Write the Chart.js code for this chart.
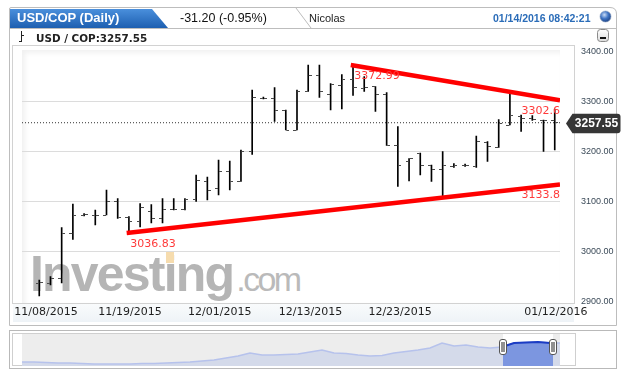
<!DOCTYPE html>
<html>
<head>
<meta charset="utf-8">
<script src="https://cdn.jsdelivr.net/npm/chart.js"></script>
<style>
  html,body{margin:0;padding:0;width:626px;height:374px;overflow:hidden;background:#fff;}
  body{position:relative;font-family:"Liberation Sans",Arial,sans-serif;}
  .a{position:absolute;}
  #deco{left:0;top:0;z-index:0}
  #plotbg{left:22px;top:50px;width:538px;height:253px;background:#fff;box-shadow:inset 3px 3px 5px rgba(0,0,0,0.06);z-index:1}
  #wm{left:30px;top:249px;font:bold 50px "Liberation Sans",Arial,sans-serif;color:#b5b5b5;letter-spacing:-1.8px;line-height:50px;white-space:nowrap;z-index:2}
  #wm .com{font-weight:normal;font-size:34px;letter-spacing:-2.6px;color:#bababa;margin-left:3px}
  #dot{left:0;top:251px;width:8px;height:12px;background:#f6dcae;z-index:2}
  #main{left:0;top:0;z-index:3}
  #nav{left:22px;top:334px;z-index:3}
  #tab{left:10px;top:9px;width:158px;height:19px;background:linear-gradient(#4a8fdc,#1d5fb0);clip-path:polygon(0 0,142px 0,158px 100%,0 100%);z-index:2}
  .t{z-index:4;white-space:nowrap;line-height:16px}
</style>
</head>
<body>
<svg id="deco" class="a" width="626" height="374">
  <defs>
    <linearGradient id="dr" x1="0" y1="0" x2="0" y2="1"><stop offset="0" stop-color="#f9fbfc"/><stop offset="1" stop-color="#eef3f7"/></linearGradient>
    <radialGradient id="gl" cx="0.4" cy="0.35" r="0.7"><stop offset="0" stop-color="#c9dcf6"/><stop offset="0.5" stop-color="#3f74c4"/><stop offset="1" stop-color="#1b3f80"/></radialGradient>
    <linearGradient id="mb" x1="0" y1="0" x2="0" y2="1"><stop offset="0" stop-color="#ffffff"/><stop offset="1" stop-color="#dcdcdc"/></linearGradient>
  </defs>
  <path d="M9.5 28 V9 Q9.5 7.5 11 7.5 H610 Q616.5 7.5 616.5 14 V325.5 H9.5 Z" fill="#fff" stroke="#bdbdbd"/>
  <line x1="9.5" y1="28.5" x2="616.5" y2="28.5" stroke="#bdbdbd"/>
  <path d="M296 8 L311 28" stroke="#bdbdbd" fill="none"/>
  <rect x="13" y="304" width="561" height="18" fill="url(#dr)"/>
  <rect x="12.5" y="45.5" width="562" height="258" fill="#fff" stroke="#d2d2d2"/>
  <circle cx="605.5" cy="16.5" r="5.5" fill="url(#gl)" stroke="#8aa0c0" stroke-width="0.6"/>
  <rect x="597.5" y="29.5" width="11" height="12" rx="3" fill="url(#mb)" stroke="#8a8a8a"/>
  <rect x="600" y="37" width="6" height="2" fill="#111"/>
  <path d="M21.5 31 V42 M19 41.5 H21.5 M21.5 35.5 H24" stroke="#222" fill="none"/>
  <rect x="9.5" y="330.5" width="607" height="38" fill="#fff" stroke="#b9b9b9"/>
  <rect x="12.5" y="333.5" width="563" height="32" fill="#fff" stroke="#cfcfcf"/>
</svg>
<div id="plotbg" class="a"></div>
<div id="wm" class="a">Invest<span id="ii">i</span>ng<span class="com">.com</span></div>
<div id="dot" class="a"></div>
<div id="tab" class="a"></div>
<div class="a t" style="left:17px;top:10px;color:#fff;font-weight:bold;font-size:13px;">USD/COP (Daily)</div>
<div class="a t" style="left:180px;top:10px;color:#111;font-size:12.5px;">-31.20 (-0.95%)</div>
<div class="a t" style="left:309px;top:10px;color:#222;font-size:11px;">Nicolas</div>
<div class="a t" style="left:493px;top:10px;color:#2a6cb8;font-size:10.5px;font-weight:bold;">01/14/2016 08:42:21</div>
<div class="a t" style="left:36px;top:30px;color:#222;font:bold 10.4px 'DejaVu Sans',sans-serif;line-height:16px;">USD / COP:3257.55</div>
<canvas id="main" class="a" width="626" height="374"></canvas>
<canvas id="nav" class="a" width="538" height="32"></canvas>
<script>
// ---------------- data ----------------
const dates = ['11/09/2015','11/10/2015','11/11/2015','11/12/2015','11/13/2015','11/16/2015','11/17/2015','11/18/2015','11/19/2015','11/20/2015',
  '11/23/2015','11/24/2015','11/25/2015','11/26/2015','11/27/2015','11/30/2015','12/01/2015','12/02/2015','12/03/2015','12/04/2015',
  '12/07/2015','12/08/2015','12/09/2015','12/10/2015','12/11/2015','12/14/2015','12/15/2015','12/16/2015','12/17/2015','12/18/2015',
  '12/21/2015','12/22/2015','12/23/2015','12/24/2015','12/25/2015','12/28/2015','12/29/2015','12/30/2015','12/31/2015','01/01/2016',
  '01/04/2016','01/05/2016','01/06/2016','01/07/2016','01/08/2016','01/11/2016','01/12/2016'];
const opens  = [2936,2937,2946,3037,3073,3073,3073,3101,3069,3061,3080,3066,3085,3085,3104,3141,3126,3160,3140,3200,
  3307,3307,3283,3243,3320,3352,3314,3332,3345,3327,3330,3314,3213,3180,3197,3173,3164,3171,3173,3171,
  3219,3208,3253,3270,3266,3263,3262];
const highs  = [2943,2950,3048,3095,3076,3083,3123,3106,3070,3096,3094,3106,3106,3106,3153,3149,3183,3181,3203,3323,
  3309,3328,3283,3323,3373,3373,3336,3354,3372.99,3350,3330,3318,3250,3186,3197,3173,3200,3176,3175,3231,
  3220,3264,3318,3273,3272,3263,3285];
const lows   = [2911,2933,2937,3024,3071,3053,3073,3066,3036.83,3049,3057,3057,3083,3083,3100,3103,3113,3123,3140,3194,
  3305,3260,3243,3243,3320,3308,3283,3285,3312,3320,3280,3212,3130,3141,3153,3140,3106,3168,3170,3168,
  3180,3208,3253,3240,3262,3200,3203];
const closes = [2938,2946,3037,3073,3074,3073,3101,3069,3061,3089,3066,3085,3085,3104,3143,3123,3160,3141,3201,3308,
  3307,3283,3243,3320,3352,3321,3334,3345,3328,3329,3314,3213,3172,3186,3173,3164,3173,3173,3173,3220,
  3210,3256,3273,3266,3265,3262,3257.55];
const lastPrice = 3257.55;
const yMin = 2900, yMax = 3400, yStep = 100;
const xTickLabels = ['11/08/2015','11/19/2015','12/01/2015','12/13/2015','12/23/2015','01/12/2016'];
const xTickIndex  = [0.6, 8.1, 16.1, 24.2, 32.2, 46.1];
const xMin = -1.54, xMax = 46.47;
const trendUpper = [{x:27.8, y:3372.99}, {x:46.47, y:3302.6}];
const trendLower = [{x:7.8, y:3036.83}, {x:46.47, y:3133.8}];
// navigator (longer history, approximate readings)
const navValues = [2006,2006,1973,1940,1940,1907,1874,1874,1874,1874,1907,1907,1940,1973,2006,2072,2138,2270,2402,2600,
  2468,2468,2501,2534,2666,2798,2600,2567,2468,2402,2435,2600,2699,2798,2930,3260,3062,3128,2996,2930,
  2996,3260,3293,3326,3260,3260];
const navMin = 1742, navMax = 3854;
const navXMax = 44.83;
const navWindow = [40.08, 44.25];

// watermark i-dot (decoration) placed over the real "i"
(function(){
  const r = document.getElementById('ii').getBoundingClientRect();
  const d = document.getElementById('dot');
  d.style.left = (r.left + r.width / 2 - 4) + 'px';
})();

// ---------------- chart ----------------
Chart.defaults.font.family = '"DejaVu Sans", sans-serif';
Chart.defaults.animation = false;

function tickCanvas(side){
  const c = document.createElement('canvas');
  c.width = 7; c.height = 1;
  const g = c.getContext('2d');
  g.fillStyle = '#4a4a4a';
  if (side === 'open') g.fillRect(0,0,3,1); else g.fillRect(4,0,3,1);
  return c;
}
const openStyle = tickCanvas('open'), closeStyle = tickCanvas('close');

const overlay = {
  id:'overlay',
  afterDatasetsDraw(chart){
    const {ctx, chartArea} = chart;
    const x = chart.scales.x, y = chart.scales.y;
    ctx.save();
    ctx.font = '11px "DejaVu Sans", sans-serif';
    ctx.fillStyle = '#ff3a3a';
    ctx.textBaseline = 'alphabetic';
    [trendUpper, trendLower].forEach(t => {
      const a = t[0], b = t[1];
      ctx.textAlign = 'left';
      ctx.fillText(String(a.y), x.getPixelForValue(a.x) + 3.5, y.getPixelForValue(a.y) + 13.5);
      ctx.textAlign = 'right';
      ctx.fillText(String(b.y), chartArea.right, y.getPixelForValue(b.y) + 13.5);
    });
    const py = Math.round(y.getPixelForValue(lastPrice)) + 0.5;
    const tip = chartArea.right + 6, bx = tip + 6.5, bw = 48, h = 9.7;
    ctx.fillStyle = '#363636';
    ctx.beginPath();
    ctx.moveTo(tip, py);
    ctx.lineTo(bx, py - h);
    ctx.lineTo(bx + bw - 3, py - h);
    ctx.quadraticCurveTo(bx + bw, py - h, bx + bw, py - h + 3);
    ctx.lineTo(bx + bw, py + h - 3);
    ctx.quadraticCurveTo(bx + bw, py + h, bx + bw - 3, py + h);
    ctx.lineTo(bx, py + h);
    ctx.closePath();
    ctx.fill();
    ctx.fillStyle = '#fff';
    ctx.font = 'bold 12px "Liberation Sans", Arial, sans-serif';
    ctx.textAlign = 'center';
    ctx.textBaseline = 'middle';
    ctx.fillText(lastPrice.toFixed(2), bx + bw / 2, py + 0.5);
    ctx.restore();
  }
};

new Chart(document.getElementById('main'), {
  type: 'bar',
  data: {
    datasets: [
      { type:'line', label:'upper', data: trendUpper, borderColor:'#ff0000', borderWidth:4.5, pointRadius:0, order:0 },
      { type:'line', label:'lower', data: trendLower, borderColor:'#ff0000', borderWidth:4.5, pointRadius:0, order:0 },
      { type:'line', label:'open', data: opens.map((v,i)=>({x:i, y:v})), showLine:false, pointStyle: openStyle, pointRadius:3, order:1 },
      { type:'line', label:'close', data: closes.map((v,i)=>({x:i, y:v})), showLine:false, pointStyle: closeStyle, pointRadius:3, order:1 },
      { type:'bar', label:'range', data: dates.map((d,i)=>({x:i, y:[lows[i], highs[i]]})), backgroundColor:'#000', barThickness:1, order:2 },
      { type:'line', label:'last', data: [{x:xMin,y:lastPrice},{x:xMax,y:lastPrice}], borderColor:'#333', borderWidth:1, borderDash:[1,2], pointRadius:0, order:3 }
    ]
  },
  options: {
    responsive:false,
    devicePixelRatio:1,
    events:[],
    layout:{ padding:{ left:22, top:51.5, right:10, bottom:50.5 } },
    plugins:{ legend:{display:false}, tooltip:{enabled:false} },
    scales:{
      x:{
        type:'linear', min:xMin, max:xMax, offset:false,
        grid:{ display:false, offset:false, drawTicks:false },
        border:{ display:false },
        afterBuildTicks(s){ s.ticks = xTickIndex.map(v=>({value:v})); },
        afterFit(s){ s.height = 22; },
        ticks:{ autoSkip:false, maxRotation:0, padding:4, color:'#1e1e1e', font:{size:11},
          callback(v){ const k = xTickIndex.indexOf(v); return k >= 0 ? xTickLabels[k] : ''; } }
      },
      y:{
        position:'right', min:yMin, max:yMax,
        grid:{ drawTicks:false, color:(c)=> (c.tick && (c.tick.value===yMin || c.tick.value===yMax)) ? 'rgba(0,0,0,0)' : '#dcdcdc' },
        border:{ display:false },
        afterFit(s){ s.width = 56; },
        ticks:{ stepSize:yStep, padding:21, color:'#3b4a58', font:{family:'"Liberation Sans", Arial, sans-serif', size:9},
          callback(v){ return Number(v).toFixed(2); } }
      }
    }
  },
  plugins:[overlay]
});

// ---------------- navigator ----------------
function winPx(chart){
  const x = chart.scales.x;
  return [x.getPixelForValue(navWindow[0]), x.getPixelForValue(navWindow[1])];
}
const navClip = {
  id:'navClip',
  beforeDraw(chart){
    const {ctx, chartArea:a} = chart;
    const w = winPx(chart);
    ctx.save();
    ctx.fillStyle = '#ededed';
    ctx.fillRect(a.left, a.top, a.right - a.left, a.bottom - a.top);
    ctx.fillStyle = '#ffffff';
    ctx.fillRect(w[0], a.top, w[1] - w[0], a.bottom - a.top);
    ctx.restore();
  },
  afterDatasetDraw(chart, args){
    const {ctx, chartArea:a} = chart;
    if (args.index === 0) {
      const w = winPx(chart);
      ctx.save();
      ctx.beginPath(); ctx.rect(w[0], a.top, w[1] - w[0], a.bottom - a.top); ctx.clip();
    } else if (args.index === 1) {
      ctx.restore();
    }
  },
  afterDraw(chart){
    const {ctx, chartArea:a} = chart;
    winPx(chart).forEach(v => {
      const px = Math.round(v);
      ctx.save();
      ctx.fillStyle = '#fff'; ctx.strokeStyle = '#555'; ctx.lineWidth = 1;
      ctx.beginPath(); ctx.roundRect(px - 3.5, a.top + 5.5, 7, 15, 2.5); ctx.fill(); ctx.stroke();
      ctx.fillStyle = '#222';
      ctx.fillRect(px - 1.5, a.top + 8, 1, 10); ctx.fillRect(px + 0.5, a.top + 8, 1, 10);
      ctx.restore();
    });
  }
};
new Chart(document.getElementById('nav'), {
  type:'line',
  data:{ datasets:[
    { data: navValues.map((v,i)=>({x:i,y:v})), borderColor:'#b6c2ec', borderWidth:1.5, backgroundColor:'#d4daea', fill:'start', pointRadius:0, tension:0, order:1 },
    { data: navValues.map((v,i)=>({x:i,y:v})), borderColor:'#1b3cc4', borderWidth:2, backgroundColor:'#7c96e0', fill:'start', pointRadius:0, tension:0, order:0 }
  ]},
  options:{
    responsive:false, devicePixelRatio:1, events:[],
    layout:{padding:0},
    plugins:{legend:{display:false}, tooltip:{enabled:false}},
    scales:{
      x:{ type:'linear', min:0, max:navXMax, display:false },
      y:{ min:navMin, max:navMax, display:false }
    }
  },
  plugins:[navClip]
});
</script>
</body>
</html>
